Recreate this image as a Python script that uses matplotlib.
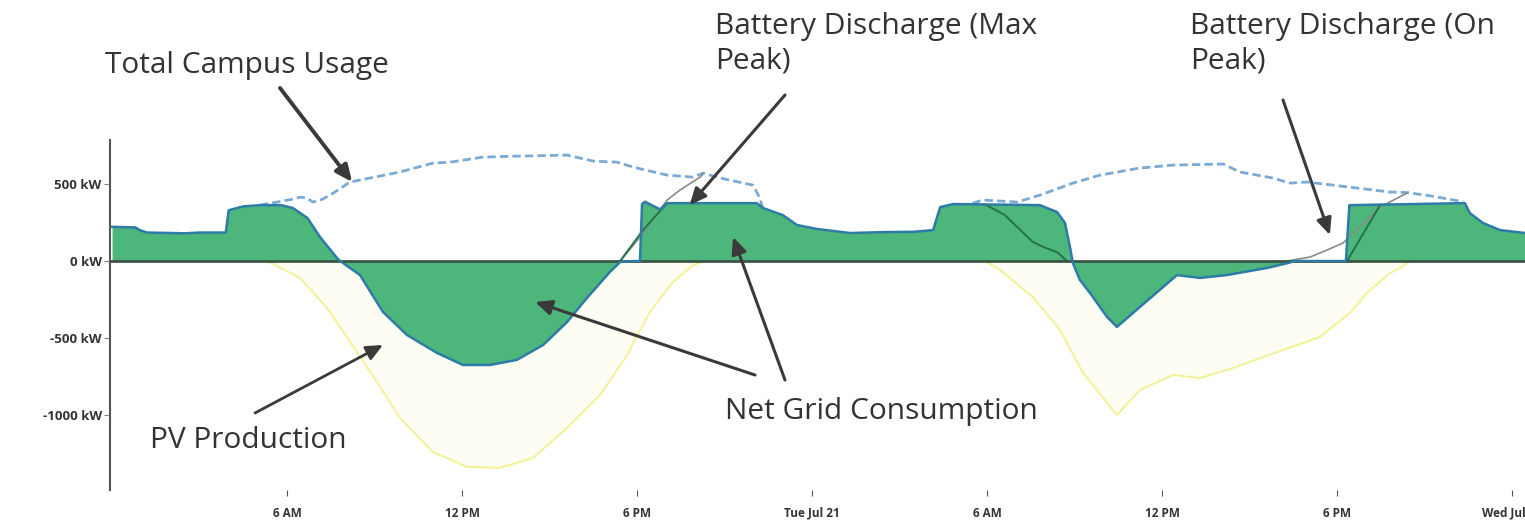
import numpy as np
import matplotlib
matplotlib.use('Agg')
import matplotlib.pyplot as plt

plt.rcParams['font.family'] = ['Open Sans', 'DejaVu Sans']

nan = np.nan

# net grid consumption (hours from Mon 00:00, kW)
net_hours = [0, 0.8, 0.96, 1.2, 2.5, 3.0, 3.9, 4.0, 4.5, 5.1, 5.8, 6.2, 6.7, 7.13, 7.71, 7.82,
             8.5, 9.29, 10.11, 11.14, 12.03, 12.96, 13.88, 14.78, 15.6, 16.28, 17.07, 17.42, 17.9, 18.1,
             18.17, 18.27, 18.79, 19.03, 22.1, 22.32, 23.0, 23.48, 24.17, 25.3, 26.5, 27.5, 28.15,
             28.39, 28.83, 31.81, 32.4, 32.67, 32.84, 32.94, 33.18, 33.53, 34.11, 34.45, 35.24, 36.51,
             37.3, 38.22, 39.6, 40.38, 40.5, 42.3, 42.42, 42.51, 46.38, 46.55, 47.0, 47.58, 48.44]
net_kw = [222, 218, 200, 185, 180, 185, 185, 330, 355, 363, 363, 344, 279, 156, 20, 0,
          -91, -331, -480, -597, -675, -675, -642, -545, -396, -240, -71, -6, 0, 0,
          370, 385, 335, 376, 376, 344, 298, 234, 208, 182, 188, 190, 201,
          350, 370, 363, 318, 247, 91, -13, -123, -208, -363, -428, -298, -91,
          -110, -91, -45, -10, 0, 0, 363, 363, 376, 311, 247, 201, 182]

# total campus usage (dashed), only where above the net line
usage_hours = [5.07, 5.66, 6.21, 6.45, 6.68, 6.89, 7.2, 7.58, 8.16, 9.87, 11.0, 11.59, 12.72, 13.88,
               15.6, 16.49, 17.31, 17.86, 19.03, 19.92, 20.26, 20.84, 21.97, 22.21, 22.3,
               nan,
               29.5, 29.86, 31.03, 31.81, 32.94, 33.87, 35.24, 36.37, 38.09, 38.67, 39.8, 40.38,
               40.97, 42.68, 43.81, 44.4, 45.3, 46.32]
usage_kw = [363, 383, 402, 415, 409, 383, 400, 441, 513, 578, 636, 642, 675, 681,
            688, 649, 642, 610, 558, 545, 571, 539, 493, 409, 344,
            nan,
            376, 396, 383, 428, 506, 558, 604, 623, 630, 578, 539, 506,
            513, 474, 448, 445, 420, 385]

# load without battery (grey trace)
gross_hours = [17.42, 18.1, 19.03, 19.47, 20.16, 20.26, nan,
               40.28, 41.07, 41.65, 42.2, 43.47, 44.39]
gross_kw = [0, 156, 396, 461, 545, 565, nan,
            0, 26, 71, 117, 350, 441]

# load minus PV (thin dark green trace)
lmp_hours = [17.42, 18.2, 19.03, nan, 29.9, 30.6, 31.03, 31.57, 32.0, 32.4, 32.74, nan, 42.34, 43.47]
lmp_kw = [0, 200, 376, nan, 370, 300, 221, 123, 85, 58, 0, nan, 0, 363]

# PV production
pv_hours = [5.31, 6.45, 7.37, 8.16, 9.08, 9.87, 11.0, 12.17, 13.3, 14.43, 15.6, 16.73, 17.66,
            18.44, 19.23, 19.92, 20.33, nan,
            29.93, 30.44, 31.57, 32.5, 33.29, 34.45, 35.24, 36.37, 37.3, 38.43, 40.14, 41.41,
            42.44, 43.02, 43.81, 44.15, 44.5]
pv_kw = [0, -110, -305, -526, -785, -1019, -1240, -1337, -1343, -1279, -1084, -870, -610,
         -331, -136, -26, 0, nan,
         0, -58, -234, -448, -727, -1000, -837, -740, -760, -695, -578, -493,
         -337, -208, -78, -45, 0]

ytick_vals = [500, 0, -500, -1000]
ytick_labels = ['500 kW', '0 kW', '-500 kW', '-1000 kW']
xtick_vals = [6, 12, 18, 24, 30, 36, 42, 48]
xtick_labels = ['6 AM', '12 PM', '6 PM', 'Tue Jul 21', '6 AM', '12 PM', '6 PM', 'Wed Jul 22']

fig = plt.figure(figsize=(15.25, 5.22), dpi=100)
ax = fig.add_axes([110 / 1525, 32 / 522, 1415 / 1525, 350 / 522])

pv_h = np.array(pv_hours)
pv_v = np.array(pv_kw)
ok = ~np.isnan(pv_v)
ax.fill_between(pv_h, pv_v, 0, where=ok, color='#fdfdf4', lw=0, zorder=1)
ax.plot(pv_hours, pv_kw, color='#f2f294', lw=1.4, zorder=2)

ax.fill_between(net_hours, net_kw, 0, color='#4db67b', lw=0, zorder=3)
ax.plot(usage_hours, usage_kw, color='#7aaad6', lw=2, ls=(0, (3, 1.5)), zorder=4)
ax.plot(gross_hours, gross_kw, color='#8a8a8a', lw=1.2, zorder=4)
ax.plot(lmp_hours, lmp_kw, color='#23734a', lw=1.4, zorder=5)
ax.axhline(0, color='#3b5547', lw=2, zorder=5)
ax.plot(net_hours, net_kw, color='#2d7ba6', lw=1.8, zorder=6)

ax.set_xlim(-0.07, 48.44)
ax.set_ylim(-1487, 786)

for s in ['top', 'right', 'bottom']:
    ax.spines[s].set_visible(False)
ax.spines['left'].set_color('#555555')
ax.spines['left'].set_linewidth(1.5)

ax.set_yticks(ytick_vals)
ax.set_yticklabels(ytick_labels, fontsize=9.5, fontweight='bold', color='#333333')
ax.set_xticks(xtick_vals)
ax.set_xticklabels(xtick_labels, fontsize=8.5, fontweight='bold', color='#333333')
ax.tick_params(axis='y', length=4, color='#888888', pad=2)
ax.tick_params(axis='x', length=4, color='#555555', pad=8)

# annotations (text in figure pixels, arrow tips on data)
H = 522
txt = dict(fontsize=21.5, color='#333333', textcoords='figure pixels', xycoords='figure pixels')
ax.annotate('Total Campus Usage', xy=(105, H - 65), va='center', ha='left', **txt)
ax.annotate('Battery Discharge (Max\nPeak)', xy=(715, H - 44), va='center', ha='left',
            linespacing=1.25, **txt)
ax.annotate('Battery Discharge (On\nPeak)', xy=(1190, H - 44), va='center', ha='left',
            linespacing=1.25, **txt)
ax.annotate('PV Production', xy=(150, H - 440), va='center', ha='left', **txt)
ax.annotate('Net Grid Consumption', xy=(725, H - 412), va='center', ha='left', **txt)

arrows = [
    ((280, 88), (8.23, 513), 2.8),
    ((785, 95), (19.8, 363), 2.2),
    ((1283, 100), (41.75, 169), 2.2),
    ((255, 413), (9.29, -545), 2.0),
    ((755, 375), (14.5, -266), 2.2),
    ((785, 380), (21.29, 156), 2.2),
]
for (sx, sy), tip, lw in arrows:
    ax.annotate('', xy=tip, xycoords='data', xytext=(sx, H - sy), textcoords='figure pixels',
                arrowprops=dict(arrowstyle='-|>,head_width=0.45,head_length=1.0',
                                color='#3a3a3a', lw=lw, shrinkA=0, shrinkB=0), zorder=10)

fig.savefig('out.png', dpi=100)
